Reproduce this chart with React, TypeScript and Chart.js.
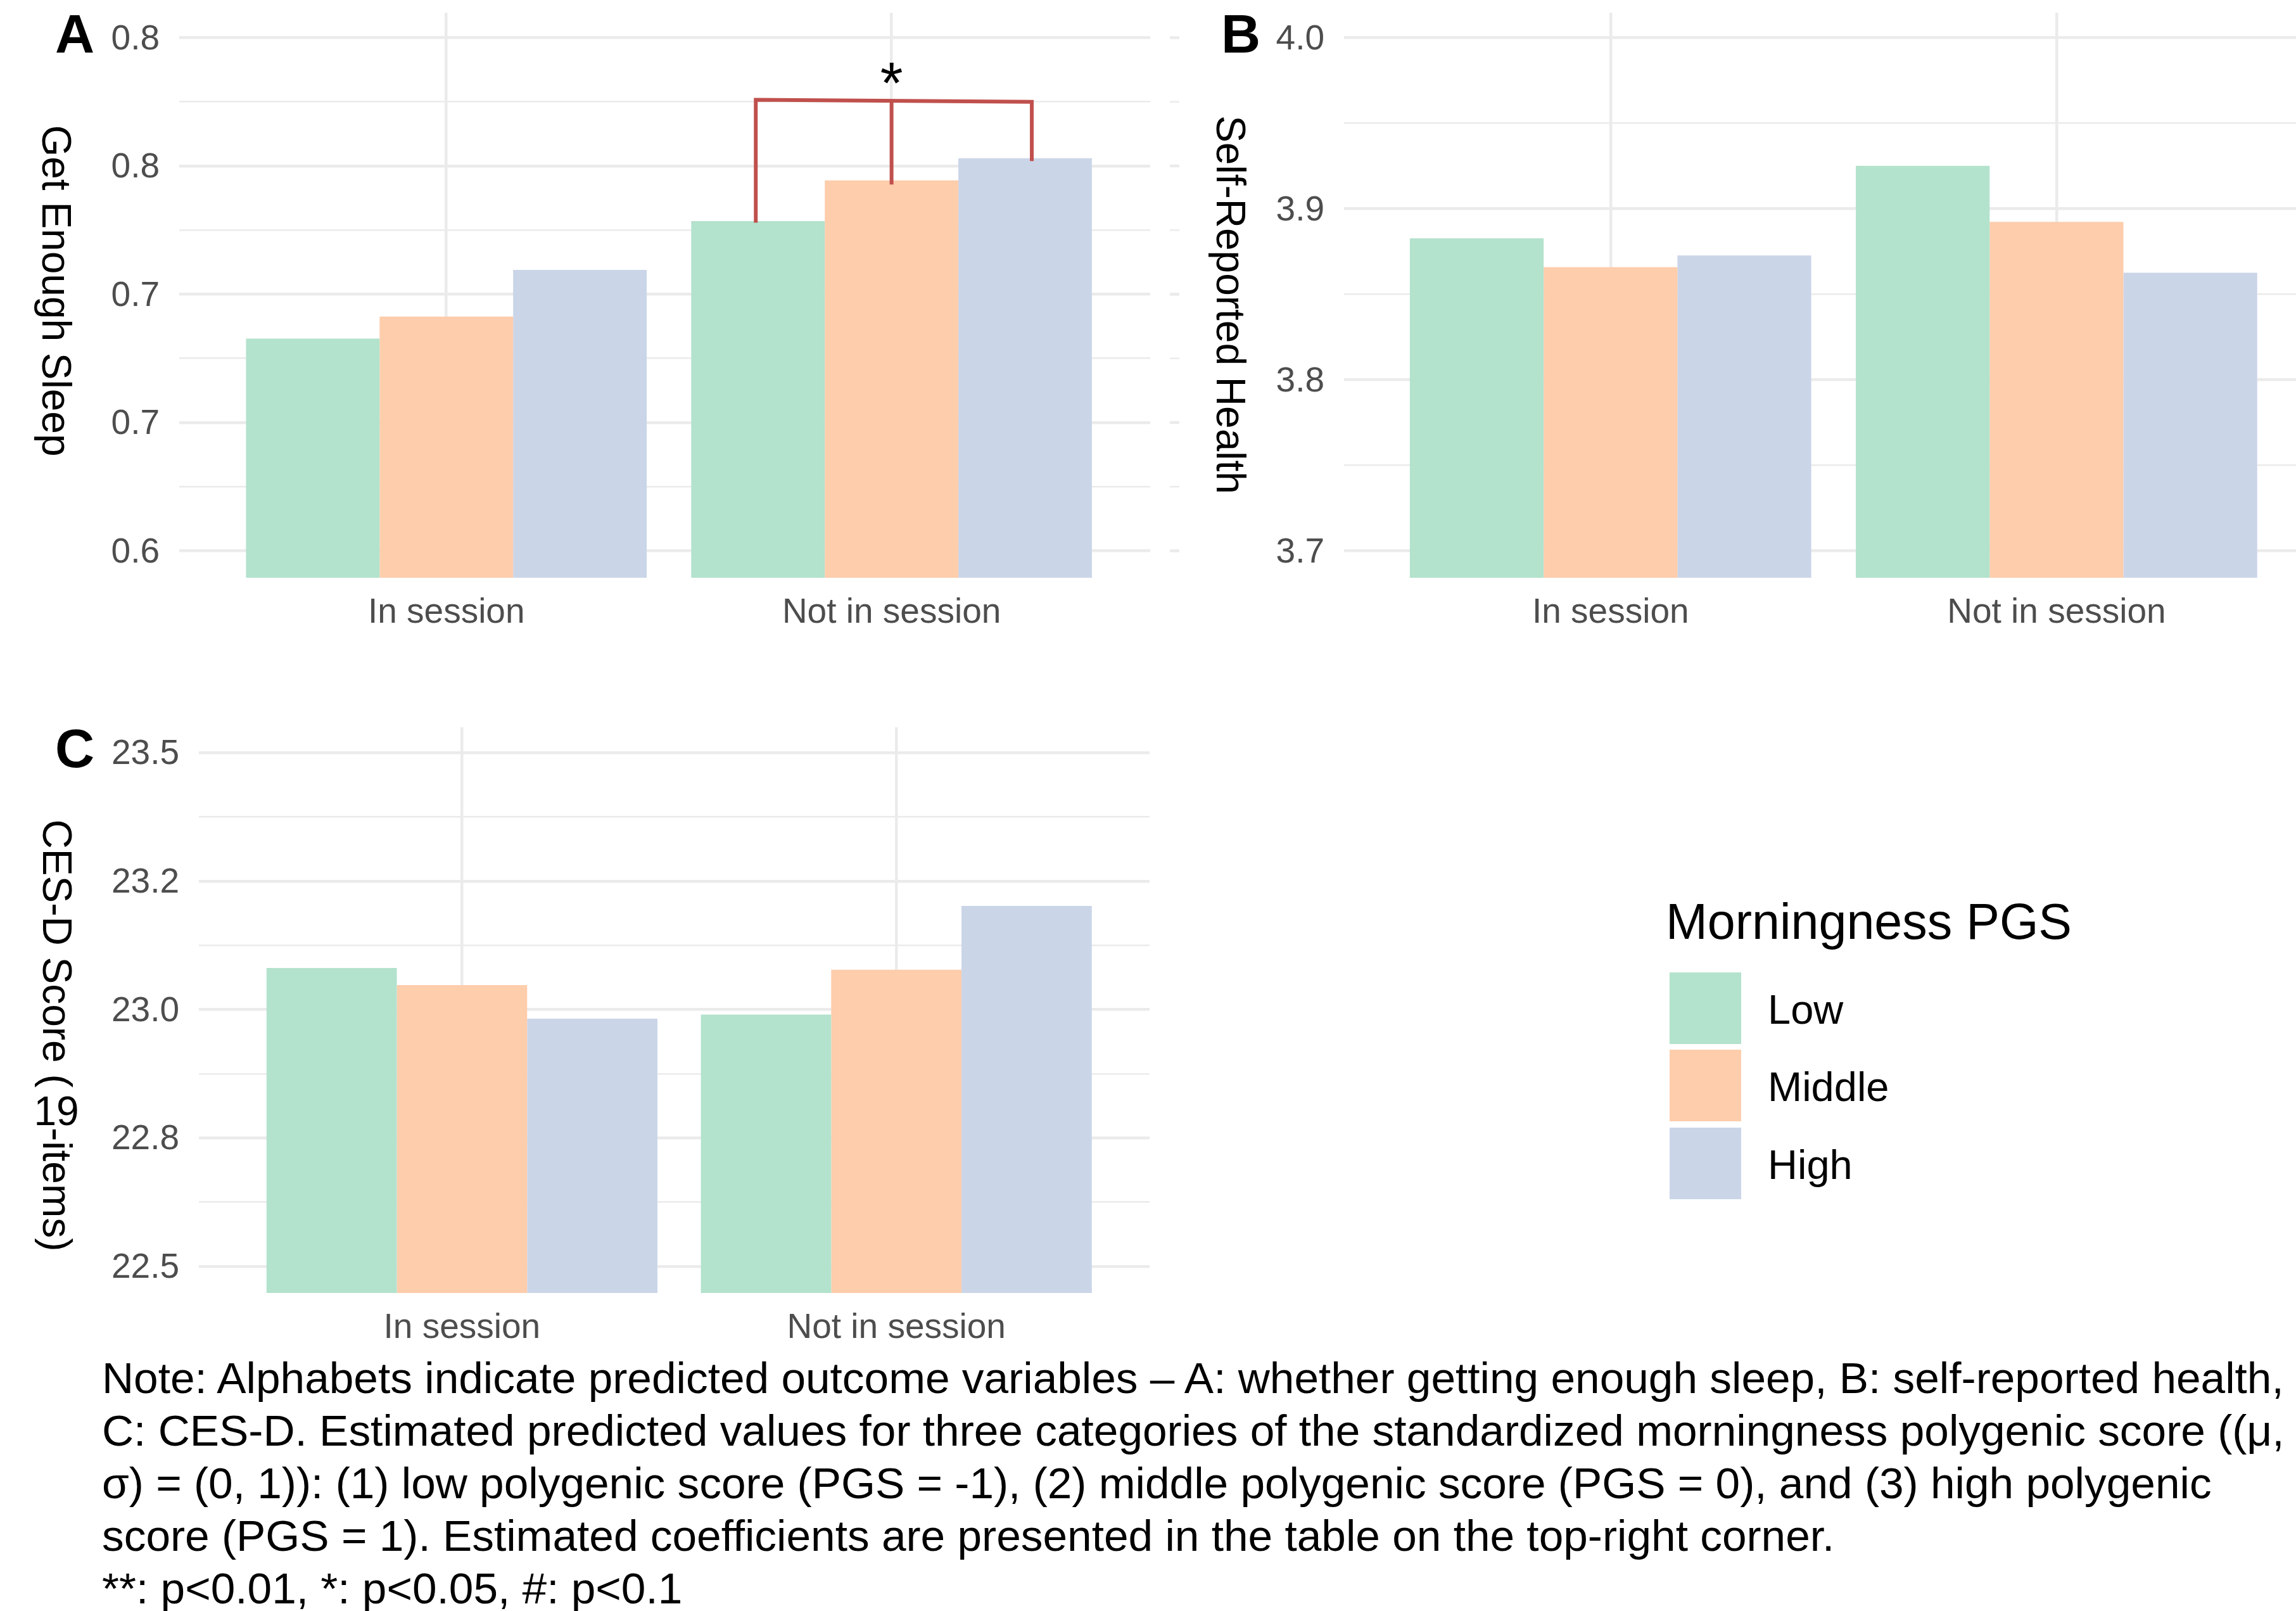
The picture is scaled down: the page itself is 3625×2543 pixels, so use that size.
import React, { useEffect, useRef } from "react";
import { Chart, registerables } from "chart.js";

Chart.register(...registerables);

// ---------- data ----------
const categories = ["In session", "Not in session"];
const categoryX = [1, 2];
const groups = ["Low", "Middle", "High"];
const groupColors = ["#B3E2CD", "#FDCDAC", "#CBD5E8"];

// Panel A: Get Enough Sleep
const sleepLow = [0.6827, 0.7285];
const sleepMiddle = [0.6913, 0.7444];
const sleepHigh = [0.7095, 0.753];
const sleepTicks = [0.6, 0.65, 0.7, 0.75, 0.8];
const sleepTickLabels = ["0.6", "0.7", "0.7", "0.8", "0.8"];
const sleepMinorTicks = [0.625, 0.675, 0.725, 0.775];

// Panel B: Self-Reported Health
const healthLow = [3.8827, 3.9251];
const healthMiddle = [3.8658, 3.8923];
const healthHigh = [3.8727, 3.8626];
const healthTicks = [3.7, 3.8, 3.9, 4.0];
const healthTickLabels = ["3.7", "3.8", "3.9", "4.0"];
const healthMinorTicks = [3.75, 3.85, 3.95];

// Panel C: CES-D Score
const cesdLow = [23.0807, 22.9901];
const cesdMiddle = [23.0476, 23.0775];
const cesdHigh = [22.9822, 23.2018];
const cesdTicks = [22.5, 22.75, 23.0, 23.25, 23.5];
const cesdTickLabels = ["22.5", "22.8", "23.0", "23.2", "23.5"];
const cesdMinorTicks = [22.625, 22.875, 23.125, 23.375];

// Significance bracket in panel A (Not in session)
const bracketX = [1.695, 2.0, 2.315];
const bracketTop = [0.7758, 0.7754, 0.775];
const bracketBottom = [0.7279, 0.7428, 0.7519];
const bracketLabel = "*";
const bracketLabelY = 0.7874;

const legendTitle = "Morningness PGS";
const noteLines = [
  "Note: Alphabets indicate predicted outcome variables \u2013 A: whether getting enough sleep, B: self-reported health,",
  "C: CES-D. Estimated predicted values for three categories of the standardized morningness polygenic score ((\u03bc,",
  "\u03c3) = (0, 1)): (1) low polygenic score (PGS = -1), (2) middle polygenic score (PGS = 0), and (3) high polygenic",
  "score (PGS = 1). Estimated coefficients are presented in the table on the top-right corner.",
  "**: p<0.01, *: p<0.05, #: p<0.1",
];

// ---------- style ----------
const FAMILY = "'Liberation Sans', Arial, Helvetica, sans-serif";
const GRID = "#EBEBEB";
const TICK_COLOR = "#4D4D4D";
const BRACKET_COLOR = "#C0504D";
const TITLE_SIZE = 64;

type TitleSeg = { text: string; start: number; upright?: boolean };

type PanelProps = {
  left: number;
  top: number;
  width: number;
  height: number;
  area: { left: number; top: number; right: number; bottom: number };
  xMin: number;
  xMax: number;
  yMin: number;
  yMax: number;
  low: number[];
  middle: number[];
  high: number[];
  majorTicks: number[];
  majorLabels: string[];
  minorTicks: number[];
  letter: string;
  letterX: number;
  letterY: number;
  title?: string;
  titleX: number;
  titleY?: number;
  titleSegs?: TitleSeg[];
  bracket?: boolean;
  dashes?: [number, number];
};

function Panel(p: PanelProps) {
  const ref = useRef<HTMLCanvasElement | null>(null);
  useEffect(() => {
    const canvas = ref.current;
    if (!canvas) return;
    const allTicks = [...p.majorTicks, ...p.minorTicks].sort((a, b) => a - b);
    const isMajor = (v: number) => p.majorTicks.some((m) => Math.abs(m - v) < 1e-9);
    const labelFor = (v: number) => {
      const i = p.majorTicks.findIndex((m) => Math.abs(m - v) < 1e-9);
      return i >= 0 ? p.majorLabels[i] : "";
    };
    const series = [p.low, p.middle, p.high];
    const datasets: any[] = series.map((vals, gi) => ({
      type: "bar",
      label: groups[gi],
      data: categoryX.map((x, i) => ({ x, y: vals[i] })),
      backgroundColor: groupColors[gi],
      borderWidth: 0,
      base: p.yMin,
      categoryPercentage: 0.9,
      barPercentage: 1.0,
      grouped: true,
      clip: 0,
      order: 2,
    }));
    if (p.bracket) {
      const lineStyle = {
        type: "line",
        borderColor: BRACKET_COLOR,
        borderWidth: 6,
        pointRadius: 0,
        fill: false,
        tension: 0,
        clip: false,
        order: 1,
        borderCapStyle: "butt",
        borderJoinStyle: "miter",
      };
      datasets.push({
        ...lineStyle,
        label: "bracket",
        data: [
          { x: bracketX[0], y: bracketBottom[0] },
          { x: bracketX[0], y: bracketTop[0] },
          { x: bracketX[2], y: bracketTop[2] },
          { x: bracketX[2], y: bracketBottom[2] },
        ],
      });
      datasets.push({
        ...lineStyle,
        label: "bracket-mid",
        data: [
          { x: bracketX[1], y: bracketTop[1] },
          { x: bracketX[1], y: bracketBottom[1] },
        ],
      });
    }

    const textPlugin = {
      id: "panelText",
      beforeDatasetsDraw(chart: any) {
        if (!p.dashes) return;
        const ctx = chart.ctx;
        const ys = chart.scales.y;
        ctx.save();
        ctx.strokeStyle = GRID;
        allTicks.forEach((v) => {
          const y = ys.getPixelForValue(v);
          ctx.lineWidth = isMajor(v) ? 4.5 : 2.5;
          ctx.beginPath();
          ctx.moveTo(p.dashes![0], y);
          ctx.lineTo(p.dashes![1], y);
          ctx.stroke();
        });
        ctx.restore();
      },
      afterDraw(chart: any) {
        const ctx = chart.ctx;
        ctx.save();
        ctx.fillStyle = "#000";
        ctx.textAlign = "left";
        ctx.textBaseline = "alphabetic";
        ctx.font = `bold 86px ${FAMILY}`;
        ctx.fillText(p.letter, p.letterX, p.letterY);
        ctx.restore();

        ctx.save();
        ctx.fillStyle = "#000";
        ctx.textBaseline = "alphabetic";
        ctx.font = `${TITLE_SIZE}px ${FAMILY}`;
        if (p.titleSegs) {
          p.titleSegs.forEach((seg) => {
            ctx.save();
            if (seg.upright) {
              ctx.textAlign = "center";
              ctx.fillText(seg.text, p.titleX + 0.33 * TITLE_SIZE, seg.start + 0.716 * TITLE_SIZE);
            } else {
              ctx.translate(p.titleX, seg.start);
              ctx.rotate(Math.PI / 2);
              ctx.textAlign = "left";
              ctx.fillText(seg.text, 0, 0);
            }
            ctx.restore();
          });
        } else if (p.title) {
          ctx.translate(p.titleX, p.titleY || 0);
          ctx.rotate(Math.PI / 2);
          ctx.textAlign = "center";
          ctx.fillText(p.title, 0, 0);
        }
        ctx.restore();

        if (p.bracket) {
          const size = 92;
          const x = chart.scales.x.getPixelForValue(bracketX[1]);
          const y = chart.scales.y.getPixelForValue(bracketLabelY) + 0.573 * size;
          ctx.save();
          ctx.fillStyle = "#000";
          ctx.font = `${size}px ${FAMILY}`;
          ctx.textAlign = "center";
          ctx.textBaseline = "alphabetic";
          ctx.fillText(bracketLabel, x, y);
          ctx.restore();
        }
      },
    };

    const chart = new Chart(canvas, {
      type: "bar",
      data: { datasets },
      options: {
        responsive: false,
        animation: false,
        devicePixelRatio: 1,
        events: [],
        layout: {
          autoPadding: false,
          padding: {
            left: 0,
            top: p.area.top,
            right: p.width - p.area.right,
            bottom: 0,
          },
        },
        plugins: {
          legend: { display: false },
          tooltip: { enabled: false },
          title: { display: false },
        },
        scales: {
          x: {
            type: "linear",
            min: p.xMin,
            max: p.xMax,
            offset: false,
            grid: { color: GRID, lineWidth: 4.5, drawTicks: false, offset: false },
            border: { display: false },
            ticks: {
              autoSkip: false,
              maxRotation: 0,
              minRotation: 0,
              padding: 28,
              color: TICK_COLOR,
              font: { family: FAMILY, size: 55, lineHeight: 1 },
              callback: (_v: any, i: number) => categories[i],
            },
            afterBuildTicks: (s: any) => {
              s.ticks = categoryX.map((v) => ({ value: v }));
            },
            afterFit: (s: any) => {
              s.height = p.height - p.area.bottom;
              s.paddingLeft = 0;
              s.paddingRight = 0;
              s.paddingTop = 0;
              s.paddingBottom = 0;
            },
          },
          y: {
            type: "linear",
            min: p.yMin,
            max: p.yMax,
            beginAtZero: false,
            grid: {
              color: GRID,
              lineWidth: (c: any) => (c.tick && isMajor(c.tick.value) ? 4.5 : 2.5),
              drawTicks: false,
            },
            border: { display: false },
            ticks: {
              padding: 31,
              labelOffset: 3,
              color: TICK_COLOR,
              font: { family: FAMILY, size: 55, lineHeight: 0.3 },
              callback: (v: any) => labelFor(Number(v)),
            },
            afterBuildTicks: (s: any) => {
              s.ticks = allTicks.map((v) => ({ value: v }));
            },
            afterFit: (s: any) => {
              s.width = p.area.left;
              s.paddingLeft = 0;
              s.paddingRight = 0;
              s.paddingTop = 0;
              s.paddingBottom = 0;
            },
          },
        },
      } as any,
      plugins: [textPlugin],
    });
    return () => chart.destroy();
  }, []);

  return (
    <canvas
      ref={ref}
      width={p.width}
      height={p.height}
      style={{ position: "absolute", left: p.left, top: p.top, width: p.width, height: p.height }}
    />
  );
}

function TextAt(props: { x: number; baseline: number; size: number; text: string; color?: string }) {
  // line-height equals font size: baseline = top + 0.8465 * size for Liberation Sans
  return (
    <div
      style={{
        position: "absolute",
        left: props.x,
        top: props.baseline - 0.8465 * props.size,
        fontSize: props.size,
        lineHeight: `${props.size}px`,
        fontFamily: FAMILY,
        color: props.color || "#000",
        whiteSpace: "pre",
      }}
    >
      {props.text}
    </div>
  );
}

export default function App() {
  const legendBoxTops = [1535, 1657, 1780];
  const legendBaselines = [1616, 1738, 1861];
  return (
    <div
      style={{
        position: "absolute",
        left: 0,
        top: 0,
        width: 3625,
        height: 2543,
        background: "#fff",
        overflow: "hidden",
      }}
    >
      <Panel
        left={0}
        top={0}
        width={1870}
        height={1040}
        area={{ left: 283, top: 20, right: 1816, bottom: 912 }}
        xMin={0.4}
        xMax={2.581}
        yMin={0.5895}
        yMax={0.80975}
        low={sleepLow}
        middle={sleepMiddle}
        high={sleepHigh}
        majorTicks={sleepTicks}
        majorLabels={sleepTickLabels}
        minorTicks={sleepMinorTicks}
        letter="A"
        letterX={87}
        letterY={83}
        title="Get Enough Sleep"
        titleX={67}
        titleY={459}
        bracket
        dashes={[1847, 1862]}
      />
      <Panel
        left={1870}
        top={0}
        width={1755}
        height={1040}
        area={{ left: 252, top: 20, right: 1755, bottom: 912 }}
        xMin={0.4024}
        xMax={2.537}
        yMin={3.6843}
        yMax={4.0146}
        low={healthLow}
        middle={healthMiddle}
        high={healthHigh}
        majorTicks={healthTicks}
        majorLabels={healthTickLabels}
        minorTicks={healthMinorTicks}
        letter="B"
        letterX={58}
        letterY={83}
        title="Self-Reported Health"
        titleX={51}
        titleY={481}
      />
      <Panel
        left={0}
        top={1080}
        width={1870}
        height={1050}
        area={{ left: 314, top: 68, right: 1815, bottom: 961 }}
        xMin={0.3943}
        xMax={2.583}
        yMin={22.448}
        yMax={23.5496}
        low={cesdLow}
        middle={cesdMiddle}
        high={cesdHigh}
        majorTicks={cesdTicks}
        majorLabels={cesdTickLabels}
        minorTicks={cesdMinorTicks}
        letter="C"
        letterX={87}
        letterY={130.5}
        titleX={68}
        titleSegs={[
          { text: "CES-D Score (", start: 213.6 },
          { text: "19", start: 650.5, upright: true },
          { text: "-items)", start: 700 },
        ]}
      />

      {/* Legend */}
      <TextAt x={2630} baseline={1481.7} size={79} text={legendTitle} />
      {groups.map((g, i) => (
        <React.Fragment key={g}>
          <div
            style={{
              position: "absolute",
              left: 2636,
              top: legendBoxTops[i],
              width: 113,
              height: 113,
              background: groupColors[i],
            }}
          />
          <TextAt x={2791} baseline={legendBaselines[i]} size={65} text={g} />
        </React.Fragment>
      ))}

      {/* Note */}
      {noteLines.map((line, i) => (
        <TextAt key={i} x={161} baseline={2199.3 + i * 83} size={69.4} text={line} />
      ))}
    </div>
  );
}
